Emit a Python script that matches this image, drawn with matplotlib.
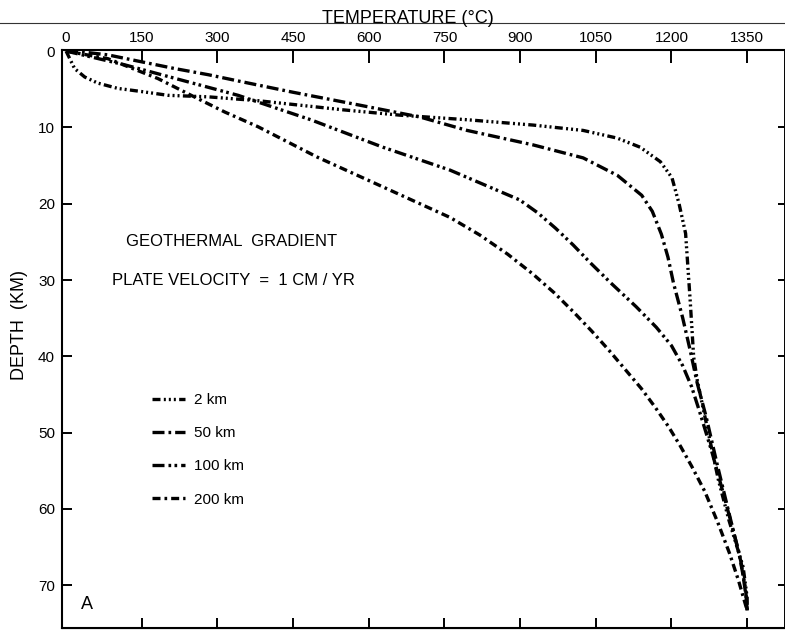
import matplotlib
matplotlib.use("Agg")
import matplotlib.pyplot as plt
from matplotlib.lines import Line2D

plt.rcParams['font.family'] = ['Liberation Sans', 'DejaVu Sans']

# temperature (deg C) vs depth (km) for each slab length
t_2km = [0, 17, 37, 63, 103, 149, 202, 282, 380, 549, 662, 795, 926, 1025, 1092,
         1138, 1178, 1201, 1215, 1228, 1237, 1244, 1251, 1272, 1293, 1314, 1342, 1350, 1350]
d_2km = [0, 2.3, 3.4, 4.2, 4.9, 5.3, 5.8, 6.0, 6.5, 7.7, 8.4, 9.0, 9.7, 10.4, 11.4,
         12.6, 14.5, 16.6, 20.0, 23.9, 32.6, 40.1, 43.1, 49.7, 56.2, 61.5, 67.6, 71.6, 73.3]

t_50km = [0, 30, 83, 149, 216, 282, 347, 450, 583, 702, 795, 926, 1025, 1093, 1141,
          1162, 1180, 1193, 1204, 1222, 1237, 1251, 1269, 1290, 1312, 1338, 1348, 1350]
d_50km = [0, 0.1, 0.5, 1.4, 2.3, 3.1, 4.0, 5.4, 7.1, 8.65, 10.4, 12.3, 14.0, 16.3, 18.9,
          21.0, 24.0, 27.0, 30.4, 34.9, 39.2, 43.5, 48.0, 54.0, 60.0, 67.0, 71.5, 73.3]

t_100km = [0, 116, 341, 485, 628, 761, 899, 935, 970, 1005, 1040, 1080, 1130, 1170,
           1200, 1222, 1240, 1256, 1280, 1305, 1333, 1347, 1350]
d_100km = [0, 1.8, 5.8, 9.0, 12.6, 15.6, 19.5, 21.2, 23.2, 25.4, 27.8, 30.4, 33.5, 36.2,
           38.6, 41.2, 44.0, 47.3, 52.5, 58.5, 65.5, 70.5, 73.3]

t_200km = [0, 83, 182, 248, 315, 380, 498, 628, 761, 820, 875, 925, 968, 1006, 1042,
           1076, 1108, 1140, 1168, 1194, 1218, 1240, 1266, 1292, 1315, 1333, 1350]
d_200km = [0, 1.0, 3.6, 5.8, 8.0, 9.9, 13.9, 17.8, 21.8, 24.1, 26.6, 29.2, 31.7, 34.2, 36.7,
           39.2, 41.7, 44.2, 46.7, 49.2, 51.8, 54.4, 57.7, 61.8, 65.8, 69.4, 73.3]

labels = ['2 km', '50 km', '100 km', '200 km']
temp_ticks = [0, 150, 300, 450, 600, 750, 900, 1050, 1200, 1350]
depth_ticks = [0, 10, 20, 30, 40, 50, 60, 70]

styles = [(0, (2.4, 1.0, 0.6, 0.9, 0.6, 0.9, 0.6, 1.0)),
          (0, (3.6, 1.2, 0.8, 1.2)),
          (0, (3.6, 1.2, 0.8, 1.0, 0.8, 1.2)),
          (0, (2.4, 1.2, 0.8, 1.2))]

fig = plt.figure(figsize=(7.85, 6.33), dpi=100)
ax = fig.add_axes([0.079, 0.0079, 0.9197, 0.913])

series = [(t_2km, d_2km), (t_50km, d_50km), (t_100km, d_100km), (t_200km, d_200km)]
for (t, d), ls, lab in zip(series, styles, labels):
    ax.plot(t, d, color='black', lw=2.4, linestyle=ls, label=lab)

ax.set_xlim(-8, 1423)
ax.set_ylim(75.6, -0.13)

ax.set_xticks(temp_ticks)
ax.set_yticks(depth_ticks)
ax.xaxis.set_ticks_position('top')
ax.tick_params(axis='x', direction='in', length=9, width=1.4, pad=4,
               labelsize=11, top=True, bottom=False, labeltop=True, labelbottom=False)
ax.tick_params(axis='y', direction='in', length=7, width=1.4, pad=5,
               labelsize=11, left=True, right=False)
ax.xaxis.get_major_ticks()[0].tick2line.set_visible(False)
ax.yaxis.get_major_ticks()[0].tick1line.set_visible(False)

# short ticks along the bottom and right edges
sec_x = ax.secondary_xaxis('bottom')
sec_x.set_xticks(temp_ticks[1:])
sec_x.tick_params(direction='in', length=7, width=1.4, labelbottom=False)
sec_y = ax.secondary_yaxis('right')
sec_y.set_yticks(depth_ticks[1:])
sec_y.tick_params(direction='in', length=4, width=1.4, labelright=False)
sec_y.spines['right'].set_linewidth(0.6)

for s in ax.spines.values():
    s.set_linewidth(1.5)
ax.spines['right'].set_linewidth(0.6)

fig.text(0.52, 0.970, 'TEMPERATURE (°C)', ha='center', va='center', fontsize=13)
fig.add_artist(Line2D([0, 1], [0.964, 0.964], transform=fig.transFigure,
                      color='#333333', lw=0.8))
fig.text(0.025, 0.487, 'DEPTH  (KM)', ha='center', va='center', rotation=90, fontsize=13)

ax.text(0.235, 0.669, 'GEOTHERMAL  GRADIENT', transform=ax.transAxes,
        ha='center', va='center', fontsize=12)
ax.text(0.238, 0.602, 'PLATE VELOCITY  =  1 CM / YR', transform=ax.transAxes,
        ha='center', va='center', fontsize=12)
ax.text(0.035, 0.040, 'A', transform=ax.transAxes, ha='center', va='center', fontsize=13)

ax.legend(loc='upper left', bbox_to_anchor=(0.105, 0.43), frameon=False, fontsize=11,
          handlelength=2.2, handletextpad=0.6, labelspacing=1.25)

fig.savefig('out.png', dpi=100)
